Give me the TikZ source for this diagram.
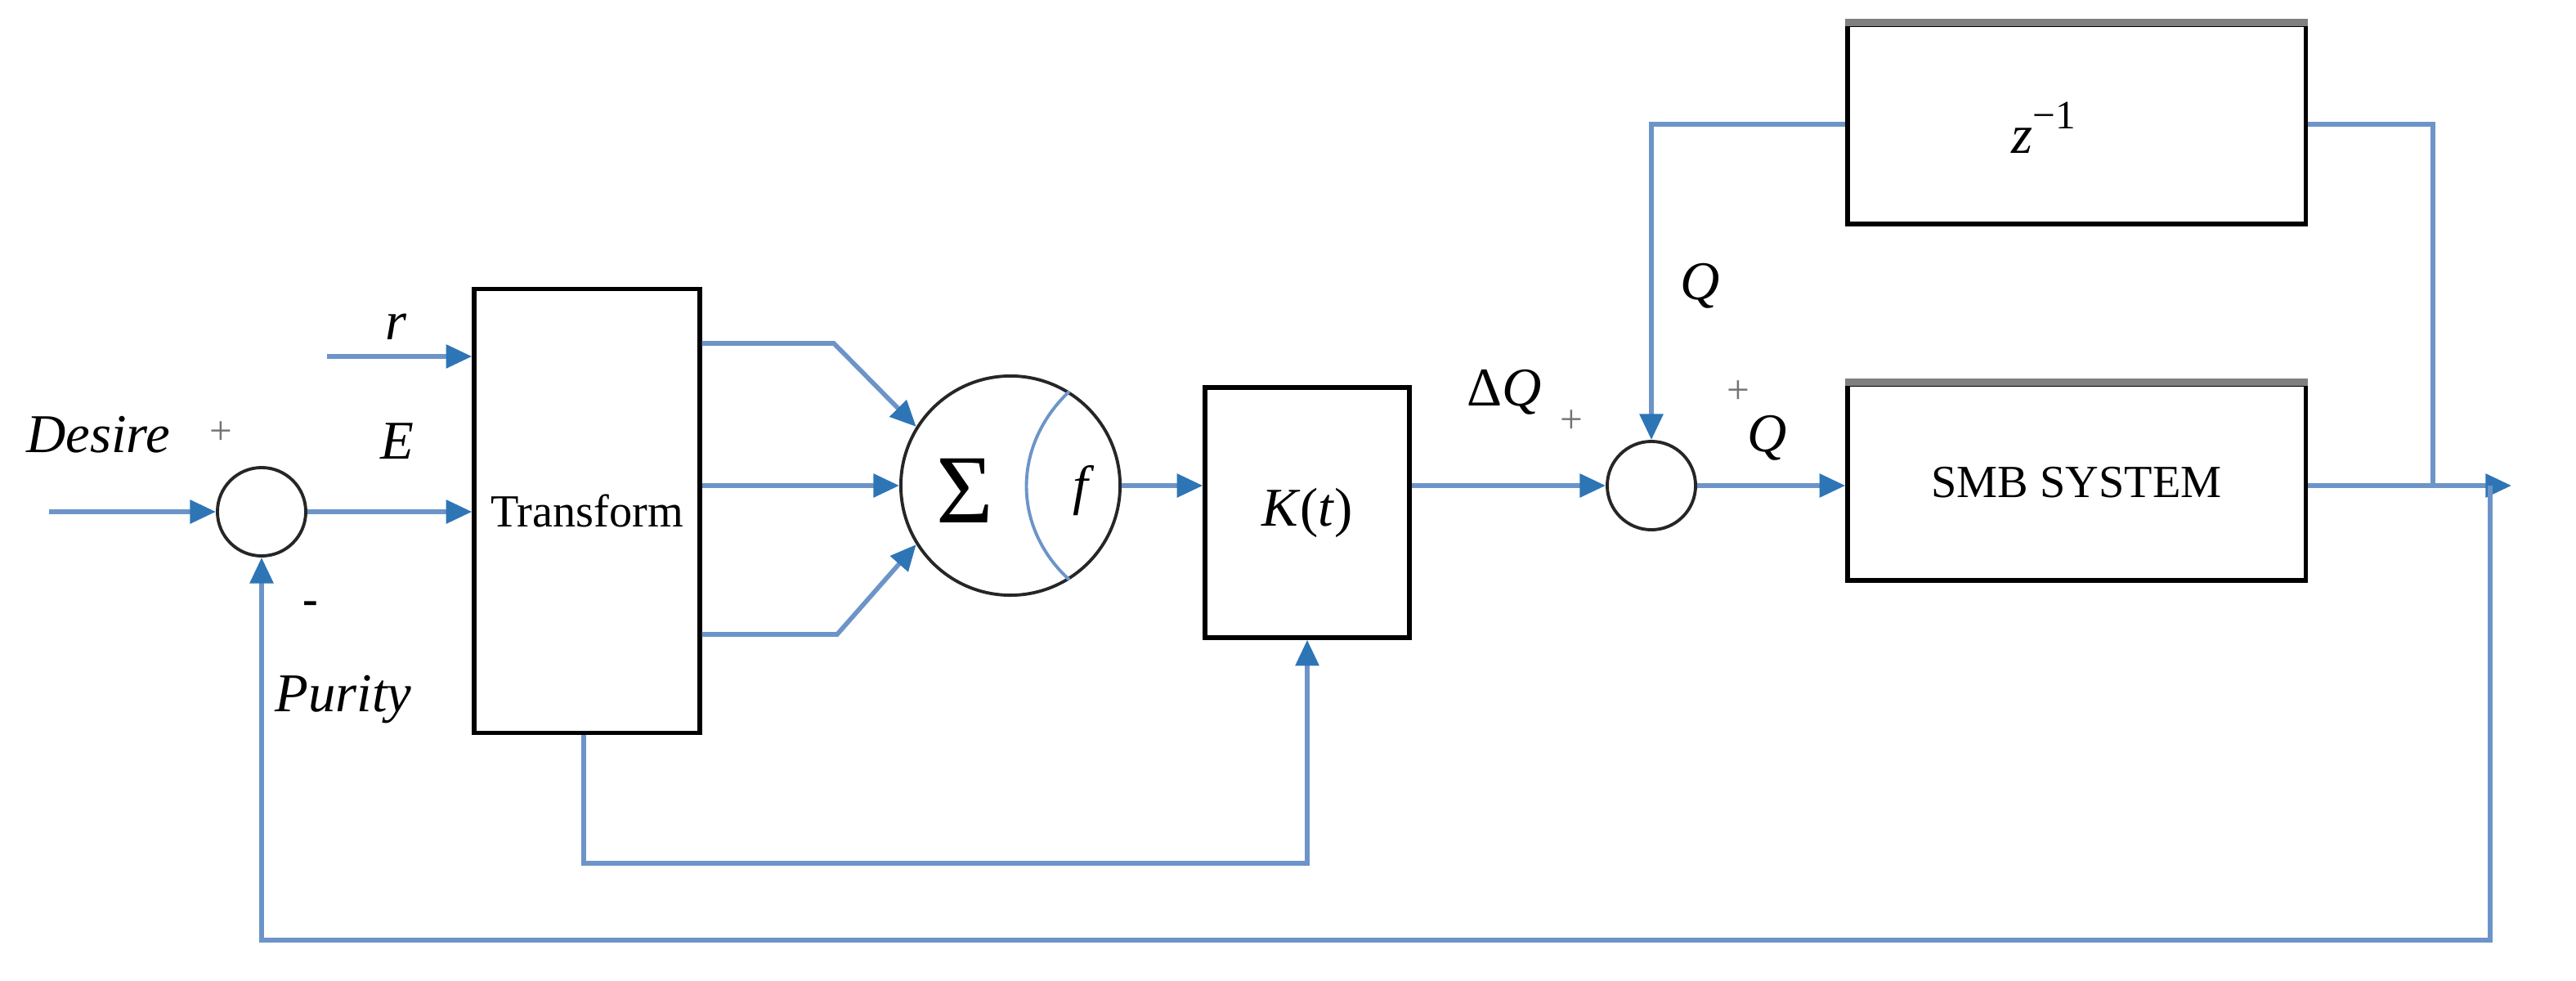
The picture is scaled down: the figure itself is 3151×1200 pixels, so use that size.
\documentclass[tikz,border=0pt]{standalone}
\usepackage{fontspec}
\setmainfont{Liberation Serif}
\usetikzlibrary{arrows.meta}
\definecolor{lineblue}{RGB}{108,148,200}
\definecolor{tipblue}{RGB}{46,117,182}
\begin{document}
\begin{tikzpicture}[x=0.01cm,y=-0.01cm,
  conn/.style={draw=lineblue, line width=1.6pt},
  arr/.style={conn, -{Triangle[length=9pt,width=8pt,color=tipblue]}},
  blk/.style={draw=black, line width=1.5pt, rectangle, inner sep=0pt, font=\fontsize{16}{19}\selectfont},
  sumc/.style={draw=black!85, line width=1.1pt, circle, minimum size=1.08cm, inner sep=0pt},
  lbl/.style={font=\fontsize{19}{22}\selectfont\itshape, inner sep=0pt},
  pls/.style={font=\fontsize{14}{16}\selectfont, text=black!55, inner sep=0pt},
  topedge/.style={draw=black!50, line width=2.6pt}
]
\useasboundingbox (0,0) rectangle (3151,1200);
% blocks
\node[sumc] (s1) at (320,626) {};
\node[blk, minimum width=2.76cm, minimum height=5.42cm] (tr) at (718,625) {Transform};
\node[circle, draw=black!85, line width=1.1pt, minimum size=2.68cm, inner sep=0pt] (sig) at (1236,594) {};
\node[blk, minimum width=2.5cm, minimum height=3.06cm] (kt) at (1599,627) {\fontsize{19}{22}\selectfont\textit{K}(\textit{t})};
\node[sumc] (s2) at (2020,594) {};
\node[blk, minimum width=5.6cm, minimum height=2.44cm] (zb) at (2540,152) {};
\node[inner sep=0pt, font=\fontsize{19}{22}\selectfont] (zt) at (2500,156) {\textit{z}\raisebox{0.45em}{\fontsize{14}{16}\selectfont −1}};
\node[blk, minimum width=5.6cm, minimum height=2.4cm] (smb) at (2540,590) {SMB SYSTEM};
\draw[topedge] (zb.north west) -- (zb.north east);
\draw[topedge] (smb.north west) -- (smb.north east);
% inside of sigma node
\node[inner sep=0pt, font=\fontsize{34}{40}\selectfont] (sg) at (1180,600) {Σ};
\node[lbl] (ff) at (1322,600) {f};
\draw[lineblue, line width=1.1pt] (sig.58) .. controls (1238,545) and (1238,645) .. (sig.-58);
% labels
\node[lbl] (ldes) at (120,532) {Desire};
\node[pls] (p1) at (270,530) {+};
\node[lbl] (lE) at (486,540) {E};
\node[lbl] (lr) at (484,400) {r};
\node[font=\fontsize{16}{18}\selectfont\bfseries, inner sep=0pt] (m1) at (380,744) {-};
\node[lbl] (lpur) at (420,856) {Purity};
\node[lbl] (ldq) at (1840,480) {\upshape Δ\itshape Q};
\node[pls] (p2) at (1922,516) {+};
\node[lbl] (lq1) at (2080,350) {Q};
\node[pls] (p3) at (2126,480) {+};
\node[lbl] (lq2) at (2162,536) {Q};
% connectors
\coordinate (in) at (60,626);
\draw[arr] (in) -- (s1.west);
\draw[arr] (s1.east) -- (s1.east -| tr.west);
\coordinate (rin) at (400,436);
\draw[arr] (rin) -- (rin -| tr.west);
\coordinate (t1) at (1020,420);
\coordinate (t3) at (1024,776);
\draw[arr] (tr.east |- t1) -- (t1) -- (sig.148);
\draw[arr] (tr.east |- sig.west) -- (sig.west);
\draw[arr] (tr.east |- t3) -- (t3) -- (sig.212);
\draw[arr] (sig.east) -- (kt.west |- sig.east);
\draw[arr] (kt.east |- s2.west) -- (s2.west);
\draw[arr] (s2.east) -- (smb.west |- s2.east);
\draw[arr] (zb.west) -| (s2.north);
\coordinate (j) at (2976,594);
\draw[conn] (zb.east) -| (j);
\coordinate (out) at (3072,594);
\draw[arr] (smb.east |- s2.east) -- (out);
\coordinate (fb) at (3046,594);
\coordinate (fbb) at (3046,1150);
\draw[arr] (fb) -- (fbb) -| (s1.south);
\coordinate (tb) at (714,1056);
\draw[arr] (tr.south -| tb) -- (tb) -| (kt.south);
\end{tikzpicture}
\end{document}
